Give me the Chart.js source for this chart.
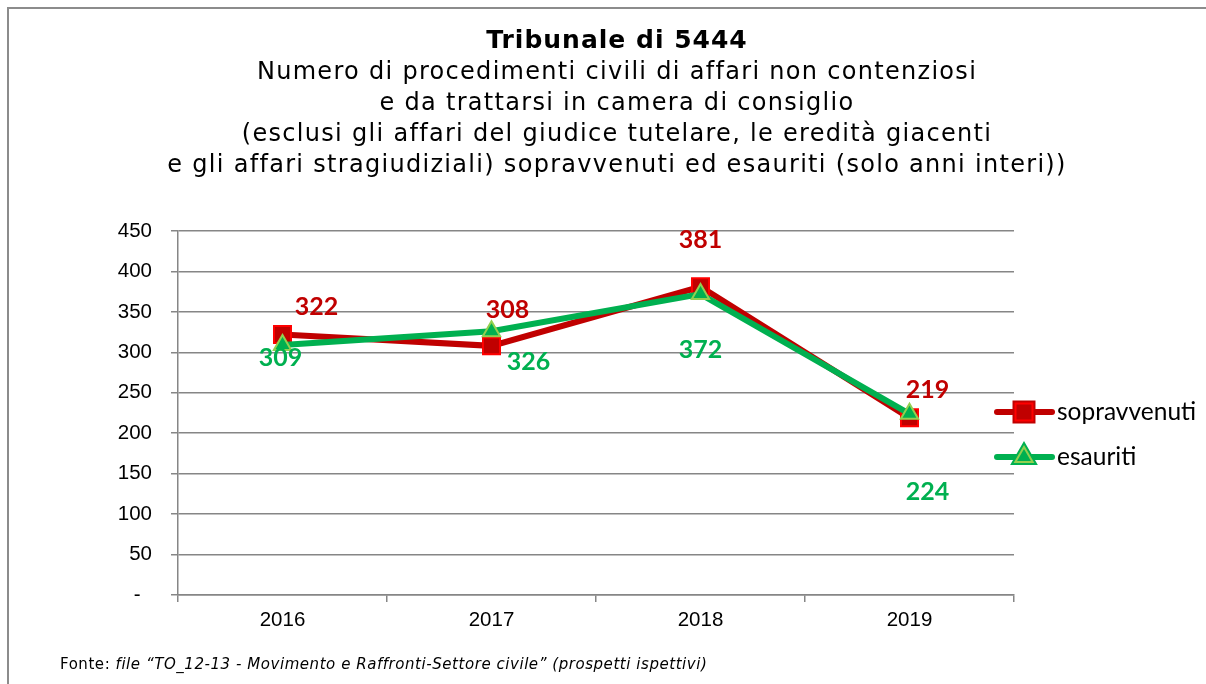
<!DOCTYPE html>
<html>
<head>
<meta charset="utf-8">
<script src="https://cdn.jsdelivr.net/npm/chart.js@4/dist/chart.umd.min.js"></script>
<style>
  body { margin: 0; background: #fff; }
  #wrap { position: relative; width: 1206px; height: 684px; overflow: hidden; }
  #frame { position: absolute; left: 7px; top: 7px; width: 1300px; height: 800px;
           border-left: 2px solid #8c8c8c; border-top: 2px solid #8c8c8c; }
  #chart { position: absolute; left: 0; top: 0; }
  .head { position: absolute; left: 0; width: 1234px; text-align: center; color: #000;
          font-family: "DejaVu Sans", Verdana, sans-serif; white-space: nowrap; }
  #title { top: 24px; font-size: 25px; font-weight: bold; line-height: 31px; letter-spacing: 1px; }
  #subtitle { top: 56px; font-size: 24px; line-height: 31px; letter-spacing: 1.3px; }
  #fonte { position: absolute; left: 60px; top: 655px; font: 15px "DejaVu Sans", Verdana, sans-serif;
           letter-spacing: 0.55px; color: #000; white-space: nowrap; }
</style>
</head>
<body>
<div id="wrap">
  <div id="frame"></div>
  <canvas id="chart" width="1206" height="684"></canvas>
  <div id="title" class="head">Tribunale di 5444</div>
  <div id="subtitle" class="head">Numero di procedimenti civili di affari non contenziosi<br>e da trattarsi in camera di consiglio<br>(esclusi gli affari del giudice tutelare, le eredità giacenti<br>e gli affari stragiudiziali) sopravvenuti ed esauriti (solo anni interi))</div>
  <div id="fonte">Fonte: <i>file “TO_12-13 - Movimento e Raffronti-Settore civile” (prospetti ispettivi)</i></div>
</div>
<script>
// Data
const years = ['2016', '2017', '2018', '2019'];
const sopravvenuti = [322, 308, 381, 219];
const esauriti = [309, 326, 372, 224];
const yTicks = [0, 50, 100, 150, 200, 250, 300, 350, 400, 450];

// label offsets (Excel labels were moved by hand)
const redLabelShift = [[34, -28], [16, -36], [0, -47], [18, -28]];
const greenLabelShift = [[-2, 13], [37, 31], [0, 56], [18, 78]];

const RED = '#C00000';
const GREEN = '#00B050';

// value labels next to the points
const valueLabels = {
  id: 'valueLabels',
  afterDatasetsDraw(chart) {
    const ctx = chart.ctx;
    ctx.save();
    ctx.font = 'bold 25px Lato, "Open Sans", sans-serif';
    ctx.textAlign = 'center';
    ctx.textBaseline = 'middle';
    chart.data.datasets.forEach((ds, i) => {
      const meta = chart.getDatasetMeta(i);
      const shift = ds.labelShift;
      ctx.fillStyle = ds.labelColor;
      meta.data.forEach((pt, j) => {
        ctx.fillText(String(ds.data[j]), pt.x + shift[j][0], pt.y + shift[j][1]);
      });
    });
    ctx.restore();
  }
};

// legend: line with marker, text on the right
const lineLegend = {
  id: 'lineLegend',
  afterDraw(chart) {
    const ctx = chart.ctx;
    const x0 = chart.chartArea.right - 17;
    const ys = [412, 457];
    ctx.save();
    chart.data.datasets.forEach((ds, i) => {
      const y = ys[i];
      ctx.strokeStyle = ds.borderColor;
      ctx.lineWidth = 6;
      ctx.lineCap = 'round';
      ctx.beginPath();
      ctx.moveTo(x0, y);
      ctx.lineTo(x0 + 55, y);
      ctx.stroke();
      Chart.helpers.drawPoint(ctx, {
        pointStyle: ds.pointStyle,
        radius: ds.pointRadius,
        borderWidth: ds.pointBorderWidth,
        rotation: 0
      }, x0 + 27, y);
      ctx.fillStyle = ds.pointBackgroundColor;
      ctx.strokeStyle = ds.pointBorderColor;
      ctx.lineWidth = ds.pointBorderWidth;
      ctx.fill();
      ctx.stroke();
      ctx.fillStyle = '#000';
      ctx.font = '24.5px Lato, "Open Sans", sans-serif';
      ctx.textBaseline = 'middle';
      ctx.textAlign = 'left';
      ctx.fillText(ds.label, x0 + 60, y);
    });
    ctx.restore();
  }
};

const tickFont = { family: '"Liberation Sans", Arial, sans-serif', size: 20.5 };

new Chart(document.getElementById('chart'), {
  type: 'line',
  data: {
    labels: years,
    datasets: [
      {
        label: 'sopravvenuti',
        data: sopravvenuti,
        borderColor: RED,
        borderWidth: 6,
        pointStyle: 'rect',
        pointRadius: 12,
        pointBackgroundColor: RED,
        pointBorderColor: '#FF0000',
        pointBorderWidth: 2,
        labelColor: RED,
        labelShift: redLabelShift,
        order: 1,
        tension: 0
      },
      {
        label: 'esauriti',
        data: esauriti,
        borderColor: GREEN,
        borderWidth: 6,
        pointStyle: 'triangle',
        pointRadius: 10,
        pointBackgroundColor: GREEN,
        pointBorderColor: '#92D050',
        pointBorderWidth: 2,
        labelColor: GREEN,
        labelShift: greenLabelShift,
        order: 0,
        tension: 0
      }
    ]
  },
  options: {
    responsive: false,
    animation: false,
    layout: { padding: { left: 0, right: 192, top: 231, bottom: 0 } },
    plugins: {
      legend: { display: false },
      tooltip: { enabled: false },
      title: { display: false }
    },
    scales: {
      x: {
        offset: true,
        grid: { offset: true, drawOnChartArea: false, drawTicks: true, tickLength: 7, color: '#868686', lineWidth: 1.5 },
        border: { display: true, color: '#868686', width: 1.5 },
        ticks: { color: '#000', padding: 6, font: tickFont },
        afterFit(s) { s.height = 89; }
      },
      y: {
        min: 0,
        max: 450,
        afterBuildTicks(s) { s.ticks = yTicks.map(v => ({ value: v })); },
        grid: { color: '#868686', lineWidth: 1.5, tickLength: 7 },
        border: { display: true, color: '#868686', width: 1.5 },
        ticks: {
          color: '#000',
          padding: 19,
          font: tickFont,
          callback: v => (v === 0 ? '-  ' : v)
        },
        afterFit(s) { s.width = 178; }
      }
    }
  },
  plugins: [valueLabels, lineLegend]
});
</script>
</body>
</html>
